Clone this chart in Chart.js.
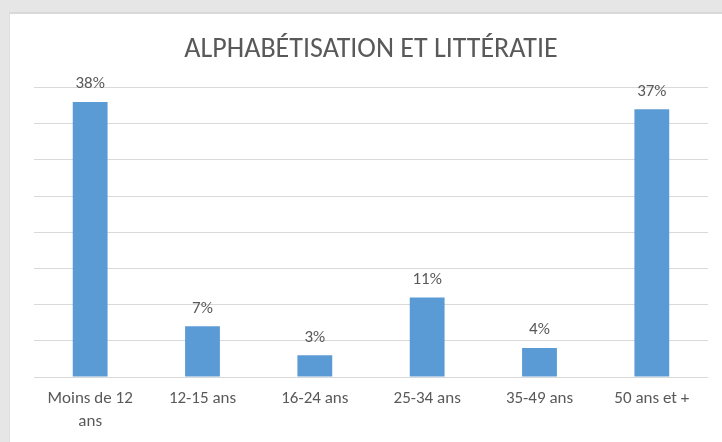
<!DOCTYPE html>
<html>
<head>
<meta charset="utf-8">
<script src="https://cdn.jsdelivr.net/npm/chart.js@4/dist/chart.umd.min.js"></script>
<style>
  html, body { margin: 0; padding: 0; }
  body { width: 722px; height: 442px; background: #e6e6e6; position: relative; overflow: hidden; }
  #panel {
    position: absolute; left: 9px; top: 12px; width: 713px; height: 430px;
    background: #ffffff; border-top: 2px solid #d9d9d9; border-left: 1px solid #dedede;
    box-sizing: border-box;
  }
  #wrap { position: absolute; left: 0; top: 0; width: 712px; height: 428px; }
</style>
</head>
<body>
<div id="panel"><div id="wrap"><canvas id="chart"></canvas></div></div>
<script>
// Data
const categories = [['Moins de 12', 'ans'], '12-15 ans', '16-24 ans', '25-34 ans', '35-49 ans', '50 ans et +'];
const percentValues = [38, 7, 3, 11, 4, 37];

const FONT = "'Carlito', 'Liberation Sans Narrow', 'Roboto', sans-serif";
const TEXT_COLOR = '#595959';

// Draws the value labels above the bars
const valueLabels = {
    id: 'valueLabels',
    afterDatasetsDraw(chart) {
        const ctx = chart.ctx;
        const meta = chart.getDatasetMeta(0);
        ctx.save();
        ctx.font = '17px ' + FONT;
        ctx.fillStyle = TEXT_COLOR;
        ctx.textAlign = 'center';
        ctx.textBaseline = 'middle';
        meta.data.forEach((bar, i) => {
            ctx.fillText(percentValues[i] + '%', bar.x, bar.y - 18);
        });
        ctx.restore();
    }
};

function createChart() {
    const ctx = document.getElementById('chart').getContext('2d');
    new Chart(ctx, {
        type: 'bar',
        data: {
            labels: categories,
            datasets: [{
                data: percentValues,
                backgroundColor: '#5b9bd5',
                borderWidth: 0,
                categoryPercentage: 1,
                barPercentage: 0.31
            }]
        },
        options: {
            responsive: true,
            maintainAspectRatio: false,
            animation: false,
            layout: { padding: { left: 24, right: 14, top: 0, bottom: 0 } },
            plugins: {
                legend: { display: false },
                tooltip: { enabled: false },
                title: {
                    display: true,
                    text: 'ALPHABÉTISATION ET LITTÉRATIE',
                    color: TEXT_COLOR,
                    font: { family: FONT, size: 28, weight: 'normal', lineHeight: 1.2 },
                    padding: { top: 19, bottom: 21 }
                }
            },
            scales: {
                x: {
                    grid: { display: false, drawTicks: false },
                    border: { display: false },
                    ticks: {
                        color: TEXT_COLOR,
                        font: { family: FONT, size: 17, lineHeight: 1.35 },
                        padding: 10,
                        maxRotation: 0,
                        autoSkip: false
                    },
                    afterFit(scale) { scale.height = 65; }
                },
                y: {
                    min: 0,
                    max: 40,
                    ticks: { display: false, stepSize: 5 },
                    grid: { color: '#d9d9d9', lineWidth: 1, drawTicks: false },
                    border: { display: false },
                    afterFit(scale) { scale.width = 0; }
                }
            }
        },
        plugins: [valueLabels]
    });
}

window.onload = createChart;
</script>
</body>
</html>
